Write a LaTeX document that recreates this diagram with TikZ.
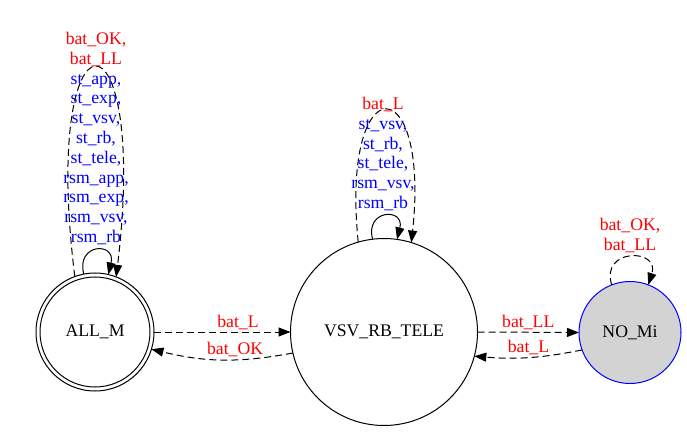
\documentclass[tikz,border=0pt]{standalone}
\usepackage{fontspec}
\setmainfont{Liberation Serif}
\usetikzlibrary{arrows.meta}
\definecolor{gvgray}{HTML}{D3D3D3}

\begin{document}
\begin{tikzpicture}[x=1pt,y=1pt,line width=1pt,
    state/.style={circle,draw,inner sep=0pt,outer sep=0pt,font=\fontsize{17.7}{19.8}\selectfont},
    lbl/.style={inner sep=2pt,align=center,font=\fontsize{17.7}{19.8}\selectfont},
    evt/.style={dash pattern=on 7pt off 4pt},
    >={Triangle[length=12pt,width=9pt]}]
  \useasboundingbox (0,0) rectangle (687,431);
  \node[state,minimum size=118pt] (allm) at (95,99) {ALL\_M};
  \draw (allm.center) circle[radius=55];
  \node[state,minimum size=187pt] (vsv) at (384,99) {VSV\_RB\_TELE};
  \node[state,minimum size=102pt,draw=blue,fill=gvgray] (nomi) at (630,98.5) {NO\_Mi};
  % transitions between states
  \draw[evt,->] (allm.east) to node[lbl,pos=0.615,above,text=red] {bat\_L} (vsv.west);
  \draw[evt,->] (vsv.193) to[bend left=12] node[lbl,pos=0.4,above,text=red] {bat\_OK} (allm.343);
  \draw[evt,->] (vsv.east) to node[lbl,above,text=red] {bat\_LL} (nomi.west);
  \draw[evt,->] (nomi.200) to[bend left=8] node[lbl,above,text=red] {bat\_L} (vsv.345);
  % self loops
  \draw[evt,->] (allm.110) .. controls +(-35,279) and +(34,279) .. (allm.69);
  \draw[->] (allm.101) .. controls +(-8,31) and +(8,33) .. (allm.77);
  \draw[evt,->] (vsv.106) .. controls +(-18,176) and +(19,176) .. (vsv.73);
  \draw[->] (vsv.97) .. controls +(-8,30) and +(8,32) .. (vsv.82);
  \draw[evt,->] (nomi.111) .. controls +(-12,37) and +(12,37) .. (nomi.69);
  % loop labels
  \node[lbl,text=blue] (allmloop) at (96,292.5) {\textcolor{red}{bat\_OK,}\\\textcolor{red}{bat\_LL}\\st\_app,\\st\_exp,\\st\_vsv,\\st\_rb,\\st\_tele,\\rsm\_app,\\rsm\_exp,\\rsm\_vsv,\\rsm\_rb};
  \node[lbl,text=blue] (vsvloop) at (383,277) {\textcolor{red}{bat\_L}\\st\_vsv,\\st\_rb,\\st\_tele,\\rsm\_vsv,\\rsm\_rb};
  \node[lbl,text=red] (nomiloop) at (630,195.5) {bat\_OK,\\bat\_LL};
\end{tikzpicture}
\end{document}
